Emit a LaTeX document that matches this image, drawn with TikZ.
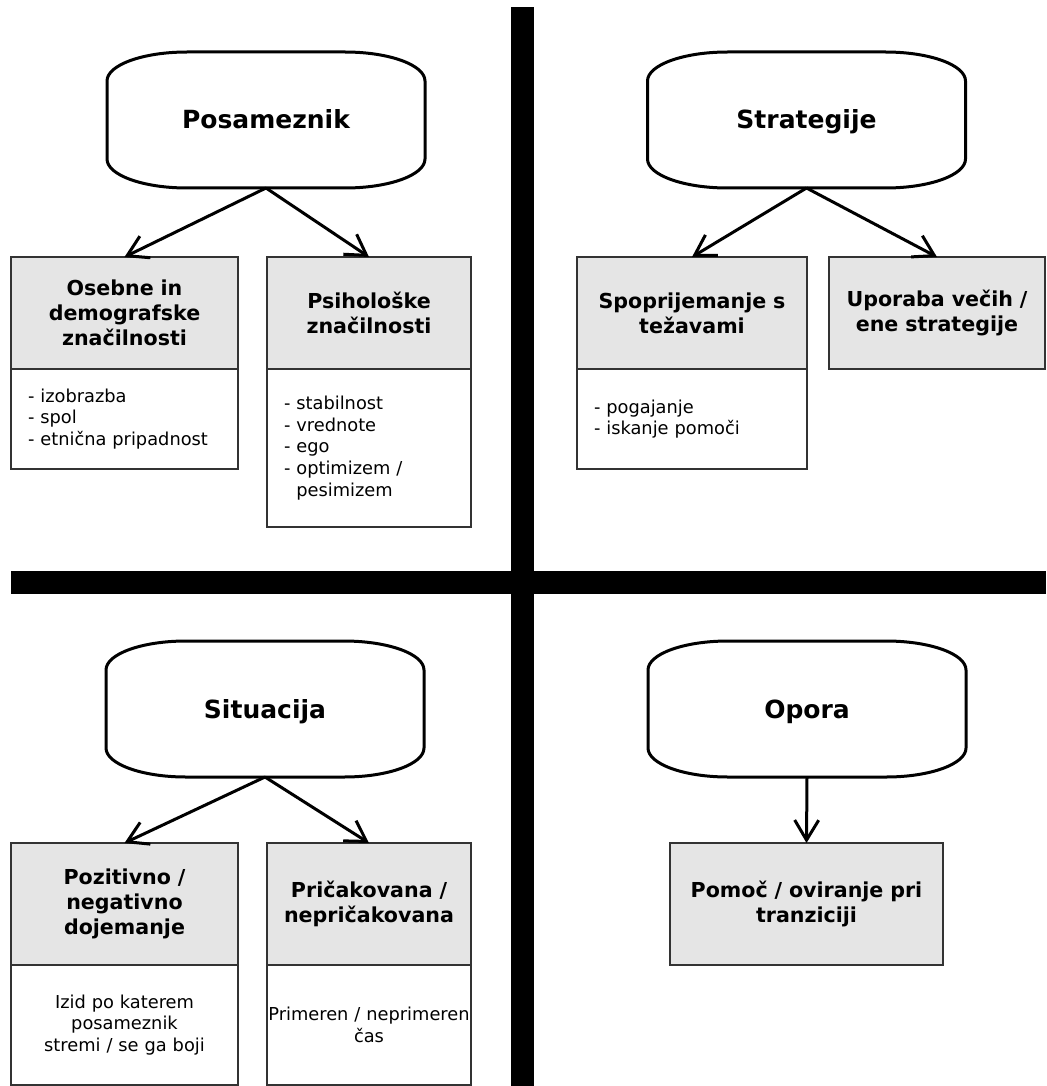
\documentclass[tikz,border=0pt]{standalone}
\usepackage{fontspec}
\setmainfont{DejaVu Sans}
\usetikzlibrary{positioning,arrows.meta}

\newcommand{\drawterm}[1]{%
  \draw[line width=3pt] ([xshift=80pt]#1.north west) -- ([xshift=-80pt]#1.north east)
    arc[start angle=90,end angle=0,x radius=80pt,y radius=29pt]
    -- ([yshift=29pt]#1.south east)
    arc[start angle=0,end angle=-90,x radius=80pt,y radius=29pt]
    -- ([xshift=80pt]#1.south west)
    arc[start angle=-90,end angle=-180,x radius=80pt,y radius=29pt]
    -- ([yshift=-29pt]#1.north west)
    arc[start angle=180,end angle=90,x radius=80pt,y radius=29pt] -- cycle;}

\begin{document}
\begin{tikzpicture}[x=1pt,y=-1pt,
  term/.style={minimum width=318pt,minimum height=136pt,inner sep=0pt,outer sep=0pt,
    text height=18pt,text depth=0pt,font=\bfseries\fontsize{25}{29}\selectfont},
  head/.style 2 args={draw=black!80,fill=black!10,line width=2pt,inner sep=0pt,outer sep=0pt,
    align=center,text width=#1,minimum height=#2,font=\bfseries\fontsize{20.6}{24.7}\selectfont},
  list/.style 2 args={draw=black!80,line width=2pt,inner xsep=17pt,inner ysep=0pt,outer sep=0pt,
    align=left,text width=#1,minimum height=#2,font=\fontsize{17.8}{21.7}\selectfont},
  note/.style 2 args={draw=black!80,line width=2pt,inner sep=0pt,outer sep=0pt,
    align=center,text width=#1,minimum height=#2,font=\fontsize{17.8}{21.7}\selectfont},
  arr/.style={line width=3pt,-{Straight Barb[length=20pt,width=24pt]}}]
  \useasboundingbox (0,0) rectangle (1046,1086);

  \fill (511,7) rectangle (534,1086);
  \fill (11,571) rectangle (1046,594);

  \node[term] (pos) at (266,120) {Posameznik};
  \node[term] (strat) at (806.5,120) {Strategije};
  \node[term] (sit) at (265,709) {Situacija};
  \node[term] (opora) at (807,709) {Opora};
  \foreach \t in {pos,strat,sit,opora} {\drawterm{\t}}

  \node[head={227pt}{112pt}] (osebne) at (124.5,313) {Osebne in\\demografske\\značilnosti};
  \node[list={193pt}{100pt},below=0pt of osebne] (osebnel) {- izobrazba\\- spol\\- etnična pripadnost};
  \node[head={204pt}{112pt}] (psih) at (369,313) {Psihološke\\značilnosti};
  \node[list={170pt}{158pt},below=0pt of psih] (psihl) {- stabilnost\\- vrednote\\- ego\\- optimizem /\\\phantom{- }pesimizem};

  \node[head={230pt}{112pt}] (spopr) at (692,313) {Spoprijemanje s\\težavami};
  \node[list={196pt}{100pt},below=0pt of spopr] (spoprl) {- pogajanje\\- iskanje pomoči};
  \node[head={216pt}{112pt}] (upor) at (937,313) {Uporaba večih /\\ene strategije};

  \node[head={227pt}{122pt}] (pozit) at (124.5,904) {Pozitivno /\\negativno\\dojemanje};
  \node[note={227pt}{120pt},below=0pt of pozit] (pozitn) {Izid po katerem\\posameznik\\stremi / se ga boji};
  \node[head={204pt}{122pt}] (prič) at (369,904) {Pričakovana /\\nepričakovana};
  \node[note={204pt}{120pt},below=0pt of prič] (pričn) {Primeren / neprimeren\\čas};

  \node[head={273pt}{122pt}] (pomoč) at (806.5,904) {Pomoč / oviranje pri\\tranziciji};

  \draw[arr] (pos.south) -- (osebne.north);
  \draw[arr] (pos.south) -- (psih.north);
  \draw[arr] (strat.south) -- (spopr.north);
  \draw[arr] (strat.south) -- (upor.north);
  \draw[arr] (sit.south) -- (pozit.north);
  \draw[arr] (sit.south) -- (prič.north);
  \draw[arr] (opora.south) -- (pomoč.north);
\end{tikzpicture}
\end{document}
